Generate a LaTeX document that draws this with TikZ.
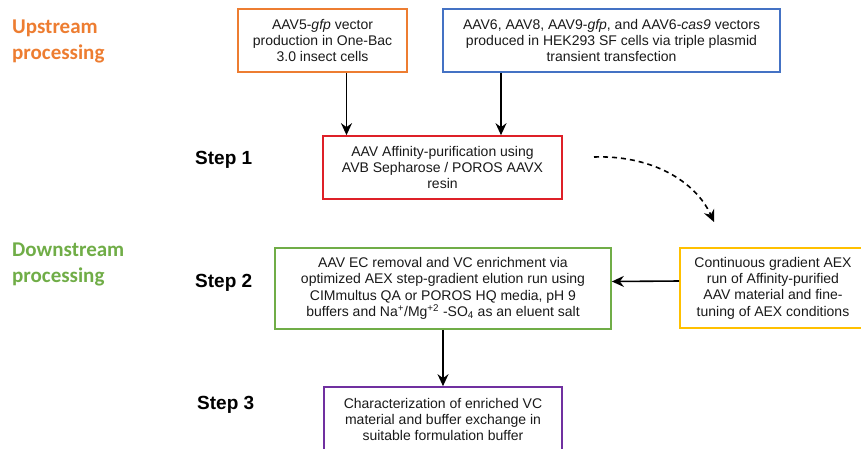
\documentclass[tikz,border=0pt]{standalone}
\usepackage{fontspec}
\setmainfont{Liberation Sans}
\newfontfamily\phasefont{Carlito}
\usetikzlibrary{calc,arrows.meta}
\tikzset{
  flow-box/.style={
    draw,
    line width=1.7pt,
    align=center,
    inner sep=0pt,
    text=txtgray,
    font=\fontsize{14}{16.3}\selectfont
  },
  box-orange/.style={flow-box, draw=uporange, minimum width=169pt, minimum height=63pt},
  box-blue/.style={flow-box, draw=boxblue, minimum width=337pt, minimum height=63pt},
  box-red/.style={flow-box, draw=boxred, minimum width=239pt, minimum height=63pt},
  box-green/.style={flow-box, draw=downgreen, minimum width=336pt, minimum height=81pt},
  box-yellow/.style={flow-box, draw=boxyellow, minimum width=186pt, minimum height=80pt},
  box-purple/.style={flow-box, draw=boxpurple, minimum width=238pt, minimum height=65pt},
  step-label/.style={anchor=west, inner sep=0pt, font=\fontsize{19}{22}\selectfont\bfseries},
  phase-label/.style={anchor=north west, inner sep=0pt, align=left,
    font=\phasefont\fontsize{21}{25.5}\selectfont\bfseries},
  flow-arrow/.style={line width=1.6pt, -{Stealth[length=12pt,width=11pt,inset=4pt]}},
  flow-dashed/.style={flow-arrow, dash pattern=on 5pt off 4pt}
}
\definecolor{uporange}{RGB}{237,125,49}
\definecolor{downgreen}{RGB}{112,173,71}
\definecolor{boxblue}{RGB}{68,114,196}
\definecolor{boxred}{RGB}{222,32,40}
\definecolor{boxyellow}{RGB}{255,192,0}
\definecolor{boxpurple}{RGB}{112,48,160}
\definecolor{txtgray}{RGB}{25,25,25}

\begin{document}
\begin{tikzpicture}[x=1pt, y=-1pt]
  \clip (0,0) rectangle (861,448);
  % Phase labels
  \node[phase-label, text=uporange] (upstream) at (12,20) {Upstream\\processing};
  \node[phase-label, text=downgreen] (downstream) at (12,243) {Downstream\\processing};
  % Step labels
  \node[step-label] (lab1) at (195,160) {Step 1};
  \node[step-label] (lab2) at (195,283) {Step 2};
  \node[step-label] (lab3) at (197,405) {Step 3};
  % Upstream boxes
  \node[box-orange] (up5) at (322.5,40.5) {AAV5-\textit{gfp} vector\\production in One-Bac\\3.0 insect cells};
  \node[box-blue] (up6) at (611.5,40.5) {AAV6, AAV8, AAV9-\textit{gfp}, and AAV6-\textit{cas9} vectors\\produced in HEK293 SF cells via triple plasmid\\transient transfection};
  % Downstream steps
  \node[box-red] (step1) at (442.5,167.5) {AAV Affinity-purification using\\AVB Sepharose / POROS AAVX\\resin};
  \node[box-green] (step2) at (443,288.5) {AAV EC removal and VC enrichment via\\optimized AEX step-gradient elution run using\\CIMmultus QA or POROS HQ media, pH 9\\buffers and Na\textsuperscript{+}/Mg\textsuperscript{+2} -SO\textsubscript{4} as an eluent salt};
  \node[box-yellow] (aexgrad) at (773,288) {Continuous gradient AEX\\run of Affinity-purified\\AAV material and fine-\\tuning of AEX conditions};
  \node[box-purple] (step3) at (443,419.5) {Characterization of enriched VC\\material and buffer exchange in\\suitable formulation buffer};
  % Connectors
  \draw[flow-arrow] ([xshift=24pt]up5.south) -- ([xshift=24pt]up5.south |- step1.north);
  \draw[flow-arrow] ([xshift=-110.5pt]up6.south) -- ([xshift=-110.5pt]up6.south |- step1.north);
  \draw[flow-arrow] ($(aexgrad.west)+(0,-7)$) -- ($(step2.east)+(0,-7)$);
  \draw[flow-arrow] (step2.south) -- (step3.north);
  \coordinate (dashstart) at (594,157);
  \coordinate (dashend) at (714,222);
  \draw[flow-dashed] (dashstart) .. controls (650,155) and (695,180) .. (dashend);
\end{tikzpicture}
\end{document}
